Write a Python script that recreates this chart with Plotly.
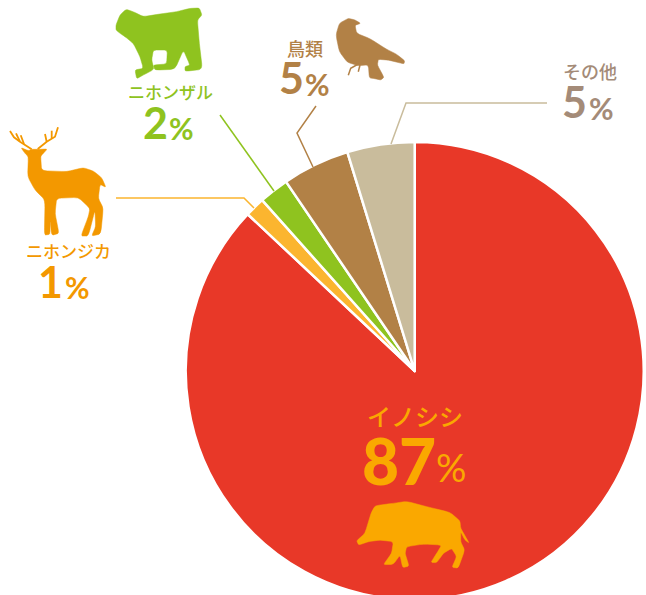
import plotly.graph_objects as go

categories = ["イノシシ", "ニホンジカ", "ニホンザル", "鳥類", "その他"]
values = [87, 1.4, 2.1, 4.75, 4.75]
shown = ["87", "1", "2", "5", "5"]
slice_colors = ["#E83828", "#FBB52F", "#8FC31F", "#B28146", "#C9BC9C"]

W, H = 646, 600
CX, CY, R = 414.7, 371, 229

fig = go.Figure(go.Pie(
    labels=categories, values=values, sort=False, direction="clockwise", rotation=0,
    textinfo="none", hoverinfo="skip", showlegend=False,
    marker=dict(colors=slice_colors, line=dict(color="#FFFFFF", width=2.5)),
    domain=dict(x=[(CX - R) / W, (CX + R) / W], y=[1 - (CY + R) / H, 1 - (CY - R) / H]),
))

def smooth(points, ox=0, oy=0, s=1 / 3, k=0.22):
    pts = [(ox + x * s, oy + y * s) for x, y in points]
    n = len(pts)
    d = ""
    for i, (vx, vy) in enumerate(pts):
        px, py = pts[i - 1]
        nx, ny = pts[(i + 1) % n]
        ax, ay = vx + (px - vx) * k, vy + (py - vy) * k
        bx, by = vx + (nx - vx) * k, vy + (ny - vy) * k
        d += ("M" if i == 0 else "L") + f"{ax:.1f},{ay:.1f} Q{vx:.1f},{vy:.1f} {bx:.1f},{by:.1f} "
    return d + "Z"

def line(points, color, width):
    d = "M" + " L".join(f"{x:.1f},{y:.1f}" for x, y in points)
    fig.add_shape(type="path", path=d, xref="x", yref="y", line=dict(color=color, width=width),
                  fillcolor="rgba(0,0,0,0)")

def blob(points, color, ox=0, oy=0):
    fig.add_shape(type="path", path=smooth(points, ox, oy), xref="x", yref="y",
                  fillcolor=color, line=dict(color=color, width=0.5))

# leader lines
line([(116, 198), (244, 198), (254, 208)], "#FBB52F", 1.5)
line([(220, 115), (274, 191)], "#8FC31F", 1.5)
line([(316, 106), (297, 133), (313, 167)], "#B28146", 1.5)
line([(547, 103), (406, 103), (391, 144)], "#C9BC9C", 1.5)

# monkey
blob([(18, 75), (30, 45), (48, 28), (70, 35), (100, 50), (150, 42), (200, 35), (240, 25), (268, 24), (276, 45),
      (262, 60), (268, 130), (277, 208), (225, 214), (225, 200), (240, 195), (220, 150), (195, 208), (135, 210),
      (130, 195), (170, 192), (172, 150), (130, 150), (125, 180), (132, 208), (100, 225), (80, 236), (75, 210),
      (100, 205), (90, 170), (70, 130), (45, 110), (30, 100), (18, 90)], "#8FC31F", ox=110)

# deer
DEER = "#F39800"
blob([(63, 443), (85, 452), (95, 448), (115, 448), (142, 447), (128, 462), (122, 470), (125, 512), (200, 515),
      (250, 503), (280, 513), (305, 533), (318, 562), (300, 553), (295, 595), (310, 625), (302, 702), (275, 708),
      (287, 680), (285, 630), (265, 708), (243, 708), (265, 650), (270, 625), (235, 592), (170, 595), (165, 640),
      (177, 700), (155, 706), (150, 660), (150, 703), (133, 705), (135, 600), (105, 570), (83, 530), (85, 470),
      (75, 460)], DEER)
for a in [[(95, 448), (60, 425), (42, 412), (30, 393)], [(60, 425), (48, 400)], [(72, 432), (62, 406)],
          [(113, 447), (140, 425), (165, 410), (174, 382)], [(140, 425), (135, 402)], [(155, 415), (155, 392)]]:
    line([(x / 3, y / 3) for x, y in a], DEER, 1.8)

# bird
BIRD = "#B28146"
blob([(228, 105), (238, 70), (265, 55), (285, 60), (302, 70), (285, 76), (290, 100), (330, 116), (380, 148),
      (410, 163), (434, 182), (432, 192), (385, 180), (355, 178), (352, 195), (372, 232), (362, 240), (345, 236),
      (328, 234), (325, 195), (295, 197), (262, 187), (238, 155)], BIRD, ox=260)
line([(260 + x / 3, y / 3) for x, y in [(295, 192), (272, 205), (265, 226)]], BIRD, 1.5)
line([(260 + x / 3, y / 3) for x, y in [(300, 195), (295, 215)]], BIRD, 1.5)

# boar
blob([(50, 452), (75, 430), (93, 370), (105, 347), (160, 340), (200, 334), (260, 350), (330, 367), (360, 393),
      (362, 415), (388, 460), (375, 450), (362, 425), (362, 455), (374, 480), (355, 534), (336, 532), (350, 500),
      (335, 475), (310, 490), (290, 518), (273, 517), (290, 490), (305, 465), (250, 462), (200, 470), (195, 490),
      (207, 528), (188, 533), (180, 495), (160, 523), (130, 524), (155, 490), (160, 455), (120, 450), (85, 455),
      (56, 465)], "#FAA800", ox=340, oy=390)

JP = "Noto Sans CJK JP"
NUM = "Lato"

def label(text, x, y, color, size):
    fig.add_annotation(x=x, y=y, xref="x", yref="y", text=text, showarrow=False,
                       font=dict(family=JP, size=size, color=color, weight=500),
                       xanchor="center", yanchor="middle")

def pct(num, xd, yd, xp, yp, color, size, psize, weight, pweight):
    fig.add_annotation(x=xd, y=yd, xref="x", yref="y", showarrow=False, xanchor="right", yanchor="middle",
                       text=num, font=dict(family=NUM, size=size, color=color, weight=weight))
    fig.add_annotation(x=xp, y=yp, xref="x", yref="y", showarrow=False, xanchor="left", yanchor="middle",
                       text="%", font=dict(family=NUM, size=psize, color=color, weight=pweight))

label(categories[0], 415, 415, "#FAA800", 24)
pct(shown[0], 438, 460, 434, 467, "#FAA800", 64, 38, 900, 400)
label(categories[1], 68, 250, DEER, 17)
pct(shown[1], 65, 281, 63, 287, DEER, 43, 30, 700, 700)
label(categories[2], 170, 91, "#8FC31F", 17)
pct(shown[2], 170, 122, 167, 128, "#8FC31F", 43, 30, 700, 700)
label(categories[3], 305, 48, BIRD, 18)
pct(shown[3], 306, 77, 303, 84, BIRD, 43, 30, 700, 700)
label(categories[4], 590, 71, "#A48B78", 18)
pct(shown[4], 589, 101, 587, 108, "#A48B78", 43, 30, 700, 700)

fig.add_trace(go.Scatter(x=[], y=[], showlegend=False))
fig.update_layout(
    width=W, height=H, margin=dict(l=0, r=0, t=0, b=0), autosize=False,
    paper_bgcolor="#FFFFFF", plot_bgcolor="#FFFFFF",
    xaxis=dict(range=[0, W], visible=False, fixedrange=True),
    yaxis=dict(range=[H, 0], visible=False, fixedrange=True),
)
fig.write_html("out.html", config=dict(displayModeBar=False),
               post_script="document.documentElement.style.overflow='hidden';document.body.style.margin='0';document.body.style.overflow='hidden';")
